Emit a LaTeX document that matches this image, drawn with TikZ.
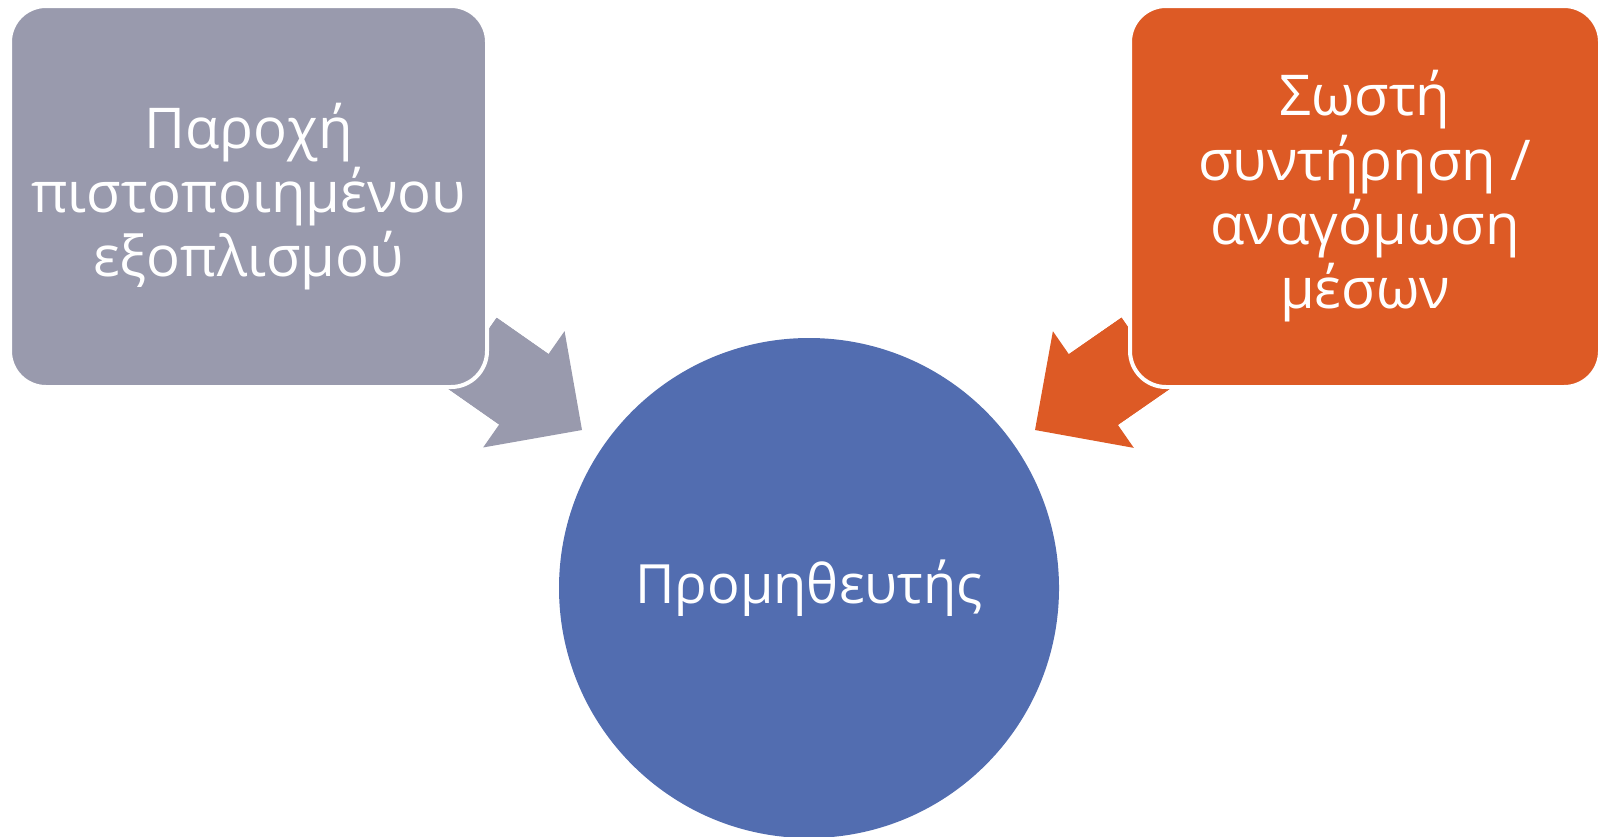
\documentclass[tikz,border=0pt]{standalone}
\usepackage{fontspec}
\setmainfont{Open Sans}
\usetikzlibrary{arrows.meta, calc}

\definecolor{boxgray}{RGB}{153,154,173}
\definecolor{boxorange}{RGB}{221,90,37}
\definecolor{hubblue}{RGB}{82,109,176}

\newcommand{\boxfont}{\fontsize{16}{18.3}\selectfont\lineskiplimit=-100pt}

\begin{document}
\begin{tikzpicture}[
            x = 0.1mm, y = -0.1mm,
            box/.style = {
                draw = white, line width = 0.4mm,
                rounded corners = 3.6mm,
                align = center, text = white,
                inner sep = 1mm,
                minimum width = 47.7mm,
                minimum height = 38.1mm,
                font = \boxfont,
            },
            hub/.style = {
                circle, fill = hubblue,
                text = white,
                minimum size = 50mm,
                font = \fontsize{15.4}{18}\selectfont,
            },
            blockarrow/.style = {
                line width = 8.6mm,
                -{Triangle[length = 7.1mm, width = 14.2mm, line width = 0pt]},
            },
            shaft/.style = {
                line width = 8.6mm,
            },
        ]

        \useasboundingbox (0,0) rectangle (1599,836);

        % Pijlen
        \coordinate (ltail) at (472,353);
        \coordinate (ltip) at (582,430);
        \coordinate (rtail) at (1146,353);
        \coordinate (rtip) at (1035,430);
        \draw[blockarrow, boxgray] (ltail) -- (ltip);
        \draw[shaft, boxgray] (ltail) -- ($(ltail)!0.6!(ltip)$);
        \draw[blockarrow, boxorange] (rtail) -- (rtip);
        \draw[shaft, boxorange] (rtail) -- ($(rtail)!0.6!(rtip)$);

        % Vakken
        \node[box, fill = boxgray] (equipment) at (248.5,196.5)
            {Παροχή\\πιστοποιημένου\\εξοπλισμού};
        \node[box, fill = boxorange, minimum width = 47mm] (maintenance) at (1365,196.5)
            {Σωστή\\συντήρηση /\\αναγόμωση\\μέσων};
        \node[hub] (supplier) at (809,588) {Προμηθευτής};

    \end{tikzpicture}
\end{document}
